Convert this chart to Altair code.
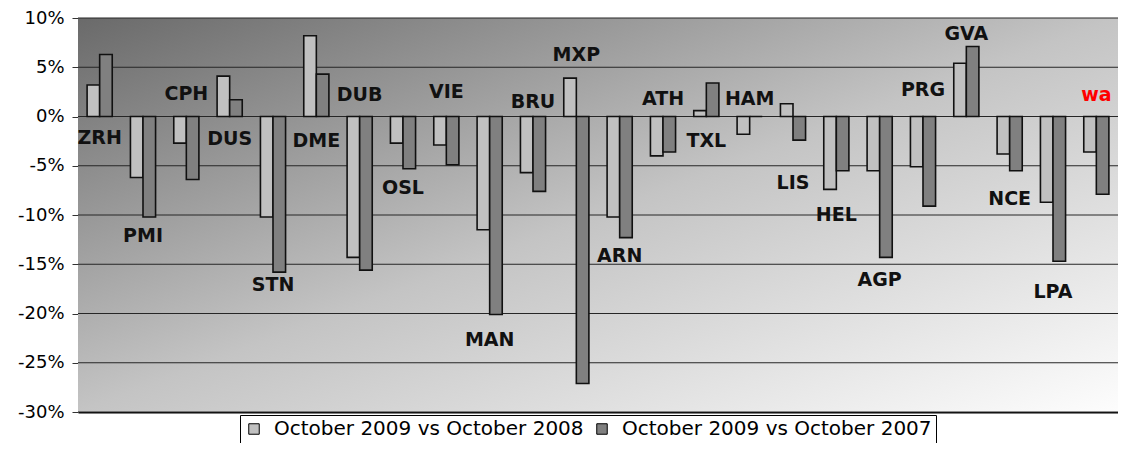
import altair as alt
import pandas as pd

airports = ["ZRH", "PMI", "CPH", "DUS", "STN", "DME", "DUB", "OSL", "VIE", "MAN", "BRU", "MXP",
            "ARN", "ATH", "TXL", "HAM", "LIS", "HEL", "AGP", "PRG", "GVA", "NCE", "LPA", "wa"]
chg_vs_2008 = [3.2, -6.2, -2.7, 4.1, -10.2, 8.2, -14.3, -2.7, -2.9, -11.5, -5.7, 3.9,
               -10.2, -4.0, 0.6, -1.8, 1.3, -7.4, -5.5, -5.1, 5.4, -3.8, -8.7, -3.6]
chg_vs_2007 = [6.3, -10.2, -6.4, 1.7, -15.8, 4.3, -15.6, -5.3, -4.9, -20.1, -7.6, -27.1,
               -12.3, -3.6, 3.4, 0.0, -2.4, -5.5, -14.3, -9.1, 7.1, -5.5, -14.7, -7.9]
label_level = [-2.2, -12.1, 2.3, -2.3, -17.1, -2.5, 2.2, -7.3, 2.5, -22.7, 1.5, 6.2,
               -14.2, 1.8, -2.5, 1.8, -6.8, -10.0, -16.6, 2.7, 8.4, -8.4, -17.8, 2.2]
series_names = ["October 2009 vs October 2008", "October 2009 vs October 2007"]
series_colors = ["#c0c0c0", "#808080"]
y_ticks = [10, 5, 0, -5, -10, -15, -20, -25, -30]

bars_df = pd.DataFrame({
    "airport": airports * 2,
    "series": [series_names[0]] * len(airports) + [series_names[1]] * len(airports),
    "value": chg_vs_2008 + chg_vs_2007,
})
labels_df = pd.DataFrame({"airport": airports, "pos": label_level})
grid_df = pd.DataFrame({"tick": y_ticks})
bg_df = pd.DataFrame({"k": [0]})

y_scale = alt.Scale(domain=[-30, 10], nice=False, zero=False)
y_axis = alt.Axis(values=y_ticks, labelExpr="datum.value + '%'", title=None, grid=False,
                  labelFont="DejaVu Sans", labelFontSize=18, labelColor="#000000",
                  tickSize=6, tickColor="#333333", labelPadding=8,
                  domainColor="#808080", domainWidth=1)
x_axis = alt.Axis(labels=False, ticks=False, title=None, domainColor="#000000", domainWidth=2)
x_enc = alt.X("airport:N", sort=airports, axis=x_axis,
              scale=alt.Scale(paddingInner=0.42, paddingOuter=0.21))

gradient = alt.LinearGradient(
    gradient="linear",
    stops=[alt.GradientStop(color="#6a6a6a", offset=0),
           alt.GradientStop(color="#c4c4c4", offset=0.5),
           alt.GradientStop(color="#fdfdfd", offset=1)],
    x1=0, y1=0, x2=1, y2=1,
)

background = alt.Chart(bg_df).mark_rect(fill=gradient, strokeWidth=0).encode(
    x=alt.value(0), x2=alt.value("width"), y=alt.value(0), y2=alt.value("height")
)

grid = alt.Chart(grid_df).mark_rule(color="#262626", strokeWidth=1).encode(
    y=alt.Y("tick:Q", scale=y_scale, axis=y_axis)
)

bars = alt.Chart(bars_df).mark_bar(stroke="#111111", strokeWidth=1.6).encode(
    x=x_enc,
    xOffset=alt.XOffset("series:N", sort=series_names),
    y=alt.Y("value:Q", scale=y_scale, axis=y_axis),
    color=alt.Color("series:N", sort=series_names,
                    scale=alt.Scale(domain=series_names, range=series_colors),
                    legend=alt.Legend(title=None, orient="none", legendX=162, legendY=397,
                                      direction="horizontal", symbolType="square",
                                      symbolSize=110, symbolStrokeColor="#000000",
                                      symbolStrokeWidth=1, labelFont="DejaVu Sans",
                                      labelFontSize=20, labelColor="#000000",
                                      labelLimit=0, labelOffset=10, columnPadding=8,
                                      padding=4, strokeColor="#000000",
                                      fillColor="#ffffff")),
)

labels = alt.Chart(labels_df).mark_text(
    font="DejaVu Sans", fontWeight="bold", fontSize=19, align="center", baseline="middle"
).encode(
    x=x_enc,
    y=alt.Y("pos:Q", scale=y_scale, axis=y_axis),
    text="airport:N",
    color=alt.condition("datum.airport == 'wa'", alt.value("#ff0000"), alt.value("#111111")),
)

chart = alt.layer(background, grid, bars, labels).properties(
    width=1040, height=394,
    autosize=alt.AutoSizeParams(type="none"),
    padding={"left": 70, "top": 10, "right": 0, "bottom": 31},
).configure_view(stroke="#808080", strokeWidth=1)

chart.save("out.html", embed_options={"renderer": "svg", "actions": False})
